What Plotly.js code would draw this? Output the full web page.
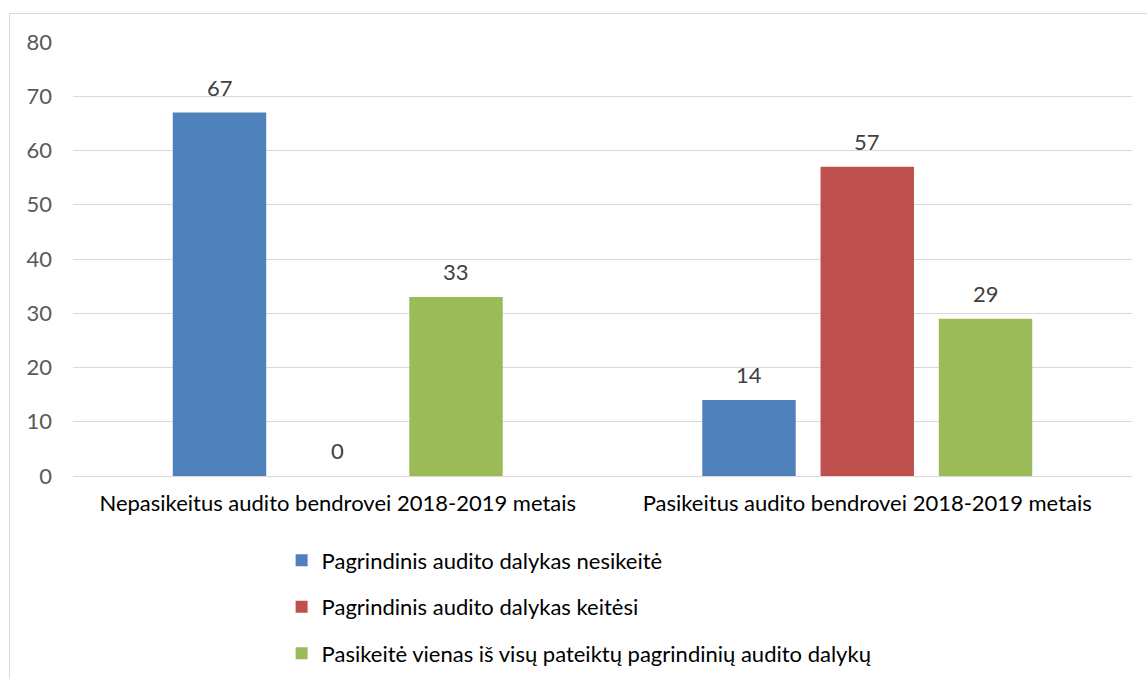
<!DOCTYPE html>
<html>
<head>
<meta charset="utf-8">
<script src="https://cdn.plot.ly/plotly-3.0.1.min.js"></script>
<style>
  html, body { margin: 0; padding: 0; background: #fff; }
  #frame { position: absolute; left: 9px; top: 13px; width: 1150px; height: 700px; border: 1px solid #d9d9d9; box-sizing: border-box; }
  #chart { position: absolute; left: 0; top: 0; width: 1147px; height: 679px; }
</style>
</head>
<body>
<div id="frame"></div>
<div id="chart"></div>
<script>
const categories = [
  "Nepasikeitus audito bendrovei 2018-2019 metais",
  "Pasikeitus audito bendrovei 2018-2019 metais"
];
const seriesNames = [
  "Pagrindinis audito dalykas nesikeitė",
  "Pagrindinis audito dalykas keitėsi",
  "Pasikeitė vienas iš visų pateiktų pagrindinių audito dalykų"
];
const seriesValues = [
  [67, 14],
  [0, 57],
  [33, 29]
];
const colors = ["#4F81BD", "#C0504D", "#9BBB59"];
const yTicks = [0, 10, 20, 30, 40, 50, 60, 70, 80];

const FONT = "Lato, Carlito, 'Open Sans', sans-serif";
const FS = 22;
const bargap = 0.33;
const bargroupgap = 0.21;

const traces = seriesNames.map((name, j) => ({
  type: "bar",
  name: name,
  x: categories.map((c, i) => i),
  y: seriesValues[j],
  marker: { color: colors[j] },
  legendgroup: "g" + j,
  hoverinfo: "y+name",
  textposition: "none"
}));

const nS = seriesNames.length;
const slot = (1 - bargap) / nS;
const annotations = [];
seriesValues.forEach((vals, j) => {
  vals.forEach((v, i) => {
    annotations.push({
      x: i - (1 - bargap) / 2 + (j + 0.5) * slot,
      y: v,
      xref: "x", yref: "y",
      text: String(v),
      showarrow: false,
      yanchor: "bottom",
      yshift: 10,
      font: { family: FONT, size: FS, color: "#404040" }
    });
  });
});

const layout = {
  width: 1147,
  height: 679,
  margin: { l: 73, r: 15, t: 42, b: 203, autoexpand: false },
  paper_bgcolor: "rgba(0,0,0,0)",
  plot_bgcolor: "rgba(0,0,0,0)",
  barmode: "group",
  bargap: bargap,
  bargroupgap: bargroupgap,
  font: { family: FONT, size: FS, color: "#000" },
  xaxis: {
    type: "linear",
    range: [-0.5, 1.5],
    tickvals: categories.map((c, i) => i),
    ticktext: categories,
    showgrid: false,
    zeroline: false,
    showline: false,
    ticks: "",
    ticklabelstandoff: 12,
    tickfont: { family: FONT, size: FS, color: "#000" },
    automargin: false,
    fixedrange: true
  },
  yaxis: {
    range: [0, 80],
    tickvals: yTicks,
    showgrid: true,
    gridcolor: "#d9d9d9",
    gridwidth: 1,
    zeroline: true,
    zerolinecolor: "#d9d9d9",
    zerolinewidth: 1,
    showline: false,
    ticks: "",
    ticklabelstandoff: 20,
    tickfont: { family: FONT, size: FS, color: "#595959" },
    automargin: false,
    fixedrange: true
  },
  showlegend: true,
  legend: {
    orientation: "v",
    x: 0.197,
    xanchor: "left",
    y: -0.146,
    yanchor: "top",
    traceorder: "grouped",
    tracegroupgap: 15,
    font: { family: FONT, size: FS, color: "#000" },
    itemwidth: 30,
    bgcolor: "rgba(0,0,0,0)"
  },
  annotations: annotations
};

Plotly.newPlot("chart", traces, layout, { displayModeBar: false, staticPlot: true });
</script>
</body>
</html>
